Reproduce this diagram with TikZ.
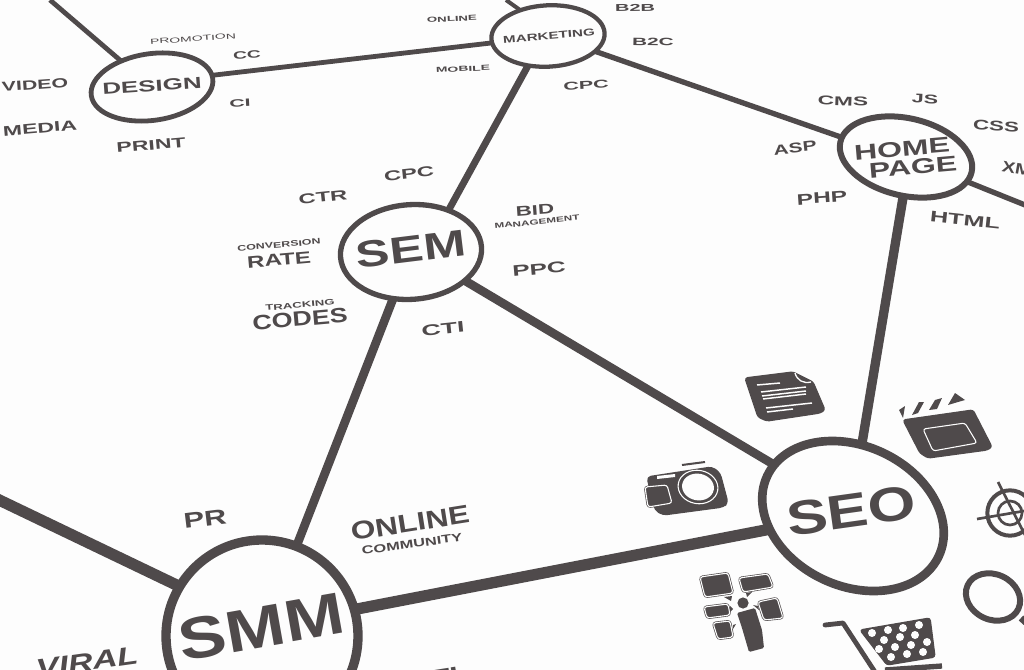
\documentclass[tikz,border=0pt]{standalone}
\usepackage{fontspec}
\setmainfont{Liberation Sans}
\usetikzlibrary{shapes.geometric}
\definecolor{ink}{HTML}{4F4A4B}
\definecolor{paper}{HTML}{FDFDFD}
\tikzset{
  hub/.style={ellipse, draw=ink, fill=paper, inner sep=0pt, outer sep=0pt},
  lab/.style n args={4}{ink, inner sep=0pt, rotate=#2, xscale=#3, transform shape,
    font=\fontsize{#1}{#1}\selectfont #4},
  link/.style={draw=ink, line cap=butt},
  icon/.style={fill=ink, draw=ink, line join=round},
  bubble/.style={fill=ink, draw=ink, line width=.5pt, double=paper, double distance=.8pt, rounded corners=2pt}
}
\begin{document}
\begin{tikzpicture}[x=.75pt,y=-.75pt]
    \useasboundingbox (0,0) rectangle (1024,670);
    \clip (0,0) rectangle (1024,670);
    \fill[paper] (0,0) rectangle (1024,670);
    % free ends
    \coordinate (e1) at (50,0);
    \coordinate (e2) at (506,0);
    \coordinate (e3) at (1030,207);
    \coordinate (e4) at (-5,498);
    % hubs
    \node[hub, line width=3.6pt, rotate=8, minimum width=92pt, minimum height=50pt] (design) at (152,87) {};
    \node[hub, line width=3.2pt, rotate=3, minimum width=85pt, minimum height=46pt] (market) at (548,36) {};
    \node[hub, line width=4pt, rotate=4, minimum width=106pt, minimum height=71pt] (sem) at (411,252) {};
    \node[hub, line width=4.5pt, rotate=-13, minimum width=101pt, minimum height=58pt] (home) at (906,157) {};
    \node[hub, line width=6.5pt, rotate=-25, minimum width=142pt, minimum height=105pt] (seo) at (853,516) {};
    \node[hub, line width=7pt, rotate=0, minimum width=144pt, minimum height=144pt] (smm) at (262,636) {};
    % links
    \path[link]
      (design.132) edge [line width=3.6pt] (e1)
      (design.3) edge [line width=3.6pt] (market.184)
      (market.134) edge [line width=3pt] (e2)
      (market.-127) edge [line width=5.2pt] (sem.44.5)
      (market.-21) edge [line width=4pt] (home.176)
      (home.-9) edge [line width=4pt] (e3)
      (home.-81.5) edge [line width=7pt] (seo.108)
      (sem.-115.6) edge [line width=6.5pt] (smm.69)
      (sem.-32) edge [line width=6.5pt] (seo.172)
      (smm.149) edge [line width=8.5pt] (e4)
      (smm.16) edge [line width=8.5pt] (seo.214);
    % design
    \node[lab={12}{4}{1.62}{\bfseries}] (tdesign) at (152,86) {DESIGN};
    \node[lab={5.5}{4}{1.9}{}] (tpromo) at (193,39) {PROMOTION};
    \node[lab={8}{3}{1.8}{\bfseries}] (tcc) at (247,55) {CC};
    \node[lab={8}{3}{2}{\bfseries}] (tci) at (240,103) {CI};
    \node[lab={10}{4}{1.6}{\bfseries}] (tvideo) at (35,85) {VIDEO};
    \node[lab={10.5}{5}{1.65}{\bfseries}] (tmedia) at (40,128) {MEDIA};
    \node[lab={10.5}{5}{1.65}{\bfseries}] (tprint) at (151,145) {PRINT};
    % marketing
    \node[lab={7.5}{5}{1.52}{\bfseries}] (tmarket) at (549,36) {MARKETING};
    \node[lab={5.5}{3}{1.8}{\bfseries}] (tonline) at (452,19) {ONLINE};
    \node[lab={5.5}{3}{1.9}{\bfseries}] (tmobile) at (463,69) {MOBILE};
    \node[lab={7.5}{1}{2}{\bfseries}] (tbb) at (635,8) {B2B};
    \node[lab={8}{-1}{1.95}{\bfseries}] (tbc) at (653,42) {B2C};
    \node[lab={8.5}{3}{1.9}{\bfseries}] (tcpc) at (586,85) {CPC};
    % sem
    \node[lab={28}{7}{1.36}{\bfseries}] (tsem) at (411,249) {SEM};
    \node[lab={10.5}{6}{1.7}{\bfseries}] (tcpcb) at (409,174) {CPC};
    \node[lab={10.5}{6}{1.7}{\bfseries}] (tctr) at (323,197) {CTR};
    \node[lab={10.5}{4}{1.6}{\bfseries}] (tbid) at (535,210) {BID};
    \node[lab={5.5}{6}{1.6}{\bfseries}] (tmanage) at (537,222) {MANAGEMENT};
    \node[lab={11.5}{5}{1.7}{\bfseries}] (tppc) at (539,269) {PPC};
    \node[lab={11.5}{6}{1.75}{\bfseries}] (tcti) at (443,329) {CTI};
    \node[lab={6}{5}{1.55}{\bfseries}] (tconv) at (279,245) {CONVERSION};
    \node[lab={12.5}{5}{1.45}{\bfseries}] (trate) at (279,260) {RATE};
    \node[lab={6}{5}{1.65}{\bfseries}] (ttrack) at (300,305) {TRACKING};
    \node[lab={15.5}{5}{1.3}{\bfseries}] (tcodes) at (300,319) {CODES};
    % home page
    \node[lab={16}{5}{1.5}{\bfseries}] (thome) at (902,149) {HOME};
    \node[lab={16}{5}{1.5}{\bfseries}] (tpage) at (913,167) {PAGE};
    \node[lab={9.5}{-2}{1.8}{\bfseries}] (tcms) at (843,101) {CMS};
    \node[lab={9.5}{-3}{1.7}{\bfseries}] (tjs) at (925,99) {JS};
    \node[lab={10.5}{-3}{1.6}{\bfseries}] (tcss) at (996,126) {CSS};
    \node[lab={10.5}{6}{1.5}{\bfseries}] (tasp) at (795,148) {ASP};
    \node[lab={11.5}{4}{1.6}{\bfseries}] (tphp) at (822,198) {PHP};
    \node[lab={11.5}{-6}{1.65}{\bfseries}] (thtml) at (965,220) {HTML};
    \node[lab={11.5}{-10}{1.3}{\bfseries}] (txml) at (1023,170) {XML};
    % seo and smm
    \node[lab={36}{8}{1.28}{\bfseries}] (tseo) at (851,511) {SEO};
    \node[lab={44}{10}{1.22}{\bfseries}] (tsmm) at (261,627) {SMM};
    \node[lab={16}{7}{1.45}{\bfseries}] (tpr) at (205,519) {PR};
    \node[lab={19}{9}{1.25}{\bfseries}] (tcommon) at (410,523) {ONLINE};
    \node[lab={8.5}{8}{1.45}{\bfseries}] (tcommu) at (412,544) {COMMUNITY};
    \node[lab={19}{8}{1.35}{\bfseries\itshape}] (tviral) at (87,662) {VIRAL};
    \node[lab={18}{9}{1.3}{\bfseries}] (tati) at (435,679) {ATI};
    % document
    \draw[icon, rounded corners=2pt, line width=1pt] (745,378) -- (793,372) -- (813,382) -- (825,410) -- (820,413) -- (767,421) -- (758,417) -- cycle;
    \draw[paper, line width=1.1pt] (757,385) -- (780,383) (761,392) -- (806,387) (762,396) -- (806,391) (763,399) -- (806,394) (766,408) -- (812,403) (767,412) -- (793,409);
    \draw[paper, line width=1pt] (795,373) .. controls (797,380) and (803,384) .. (811,382);
    % camera
    \draw[icon, rounded corners=3pt, line width=1pt] (647,477) -- (712,467) -- (720,473) -- (728,503) -- (723,507) -- (663,515) -- (655,510) -- cycle;
    \draw[ink, line width=1.5pt] (682,465) -- (705,462);
    \draw[paper, line width=.8pt, rotate around={-10:(698,487)}] (698,487) ellipse (15pt and 12.5pt);
    \fill[paper, rotate around={-10:(698,487)}] (698,487) ellipse (12pt and 10pt);
    \draw[bubble] (645,487) -- (667,485) -- (672,503) -- (648,507) -- cycle;
    \fill[paper] (657,476) -- (675,474) -- (675,477) -- (657,479) -- cycle;
    % clapper
    \draw[icon, rounded corners=2pt, line width=1pt] (903,420) -- (973,410) -- (992,447) -- (987,450) -- (928,458) -- (920,453) -- cycle;
    \draw[bubble] (923,429) -- (965,423) -- (977,443) -- (933,451) -- cycle;
    \fill[ink] (899,410) -- (905,406) -- (903,418) -- cycle
      (912,415) -- (919,402) -- (924,402) -- (918,413) -- cycle
      (929,410) -- (935,400) -- (942,398) -- (937,409) -- cycle
      (948,405) -- (955,393) -- (965,400) -- (958,402) -- cycle;
    % target
    \draw[ink, line width=3pt] (1010,513) circle (17pt);
    \draw[ink, line width=2pt] (1010,513) circle (9pt);
    \draw[ink, line width=2pt] (998,482) -- (1025,535) (977,519) -- (1024,511);
    % lens
    \draw[ink, line width=4.5pt, rotate around={-25:(993,597)}] (993,597) ellipse (21pt and 17pt);
    \draw[ink, line width=5pt] (1021,618) -- (1032,628);
    % person and bubbles
    \fill[ink] (743,603) circle (4.2pt);
    \fill[ink, rounded corners=1pt] (737,613) -- (755,608) -- (762,630) -- (764,648) -- (749,652) -- (742,628) -- cycle;
    \draw[bubble] (700,577) -- (728,573) -- (733,593) -- (705,597) -- cycle;
    \draw[bubble] (739,578) -- (768,574) -- (773,587) -- (743,592) -- cycle;
    \draw[bubble] (704,607) -- (728,604) -- (730,615) -- (707,618) -- cycle;
    \draw[bubble] (758,602) -- (777,598) -- (783,618) -- (764,620) -- cycle;
    \draw[bubble] (713,623) -- (730,621) -- (733,637) -- (718,639) -- cycle;
    \fill[ink] (724,597) -- (732,596) -- (731,601) -- cycle
      (746,593) -- (752,592) -- (747,597) -- cycle
      (730,606) -- (733,609) -- (730,612) -- cycle
      (758,606) -- (753,605) -- (759,610) -- cycle
      (733,625) -- (736,624) -- (733,629) -- cycle;
    % cart
    \draw[ink, line width=3.6pt, line cap=round, line join=round] (825,625) -- (843,623) -- (875,672);
    \draw[icon, rounded corners=2pt, line width=1pt] (860,630) -- (930,618) -- (935,657) -- (887,665) -- cycle;
    \draw[ink, line width=4pt] (885,670) -- (942,666);
    \foreach \px/\py in {872/633,888/630,903/628,919/625,884/640,900/637,915/635,879/649,895/647,911/645,927/642,891/657,907/654,923/652}
      \fill[paper] (\px,\py) circle (3pt);
\end{tikzpicture}
\end{document}
